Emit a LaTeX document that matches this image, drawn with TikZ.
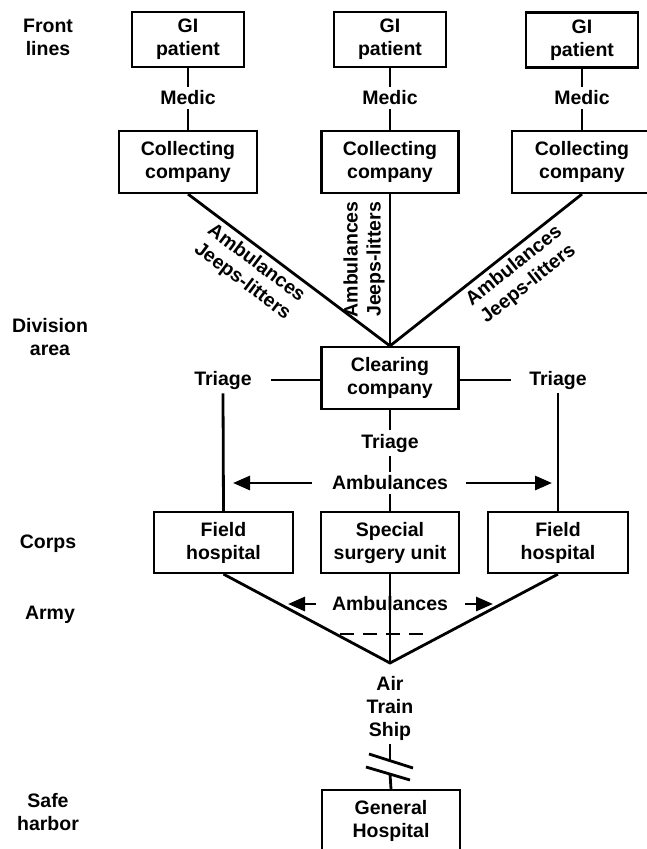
\documentclass[tikz,border=0pt]{standalone}
\usepackage{fontspec}
\setmainfont{Liberation Sans}
\usepackage{tikz}
\usetikzlibrary{arrows.meta}

\begin{document}
\begin{tikzpicture}[x=1pt,y=-1pt]

%
% Styles
%
\tikzstyle{unit} = [draw,line width=2.2pt,align=center,inner sep=0pt,minimum height=62pt,font=\bfseries\fontsize{19.5}{23}\selectfont]
\tikzstyle{tag}  = [align=center,inner sep=4pt,font=\bfseries\fontsize{19.5}{23}\selectfont]
\tikzstyle{link} = [line width=2.8pt]
\tikzstyle{ride} = [line width=2.8pt,-{Triangle[width=14pt,length=17pt]}]

\useasboundingbox (0,0) rectangle (647,849);

% echelons
\node[tag] (front)    at (48,37)  {Front\\lines};
\node[tag] (division) at (50,337) {Division\\area};
\node[tag] (corps)    at (48,544) {Corps};
\node[tag] (army)     at (50,615) {Army};
\node[tag] (safe)     at (48,812) {Safe\\harbor};

% front lines
\node[unit,minimum width=112pt,minimum height=55pt] (gi1) at (188,39.5) {GI\\patient};
\node[unit,minimum width=112pt,minimum height=55pt] (gi2) at (390,39.5) {GI\\patient};
\node[unit,minimum width=112pt,minimum height=55pt] (gi3) at (582,40)   {GI\\patient};

\node[tag] (medic1) at (188,98) {Medic};
\node[tag] (medic2) at (390,98) {Medic};
\node[tag] (medic3) at (582,98) {Medic};

\node[unit,minimum width=138pt] (coll1) at (188,162) {Collecting\\company};
\node[unit,minimum width=137pt] (coll2) at (390,162) {Collecting\\company};
\node[unit,minimum width=140pt] (coll3) at (582,162) {Collecting\\company};

% division
\node[unit,minimum width=137pt] (clear) at (390,378) {Clearing\\company};
\node[tag] (triL) at (223,380) {Triage};
\node[tag] (triR) at (558,380) {Triage};
\node[tag] (triM) at (390,443) {Triage};
\node[tag] (ambU) at (390,483) {Ambulances};

% corps and army
\node[unit,minimum width=139pt,minimum height=61pt] (fieldL)  at (223.5,542.5) {Field\\hospital};
\node[unit,minimum width=138pt,minimum height=61pt] (special) at (390,542.5)   {Special\\surgery unit};
\node[unit,minimum width=140pt,minimum height=61pt] (fieldR)  at (558,542.5)   {Field\\hospital};
\node[tag] (ambL) at (390,604) {Ambulances};
\coordinate (apex) at (390,663);

% rear
\node[tag] (route) at (390,708) {Air\\Train\\Ship};
\node[unit,minimum width=138pt] (general) at (391,821) {General\\Hospital};

\coordinate (tipUL) at (233,483);
\coordinate (tipUR) at (552,483);
\coordinate (tipLL) at (288,604);
\coordinate (tipLR) at (493,604);
\coordinate (dashA) at (340,634);
\coordinate (dashB) at (432,634);
\coordinate (cutA)  at (390,761);
\coordinate (cutB)  at (390,774);

\foreach \i in {1,2,3} {
  \draw[link] (gi\i.south) -- (medic\i.north);
  \draw[link] (medic\i.south) -- (coll\i.north);
}

\draw[link] (coll1.south) -- node[tag,sloped,below,pos=0.38] {Ambulances\\Jeeps-litters} (clear.north);
\draw[link] (clear.north) -- node[tag,sloped,above,pos=0.57] {Ambulances\\Jeeps-litters} (coll2.south);
\draw[link] (clear.north) -- node[tag,sloped,below,pos=0.6]  {Ambulances\\Jeeps-litters} (coll3.south);

\draw[link,shorten <=15pt] (triL.east) -- (triL -| clear.west);
\draw[link,shorten <=14pt] (triR.west) -- (triR -| clear.east);
\draw[link] (triL.south) -- (fieldL.north);
\draw[link] (triR.south) -- (fieldR.north);

\draw[link] (clear.south) -- (triM.north);
\draw[link] (triM.south) -- (ambU.north);
\draw[link] (ambU.south) -- (special.north);

\draw[ride,shorten <=16pt] (ambU.west) -- (tipUL);
\draw[ride,shorten <=14pt] (ambU.east) -- (tipUR);
\draw[ride,shorten <=12pt] (ambL.west) -- (tipLL);
\draw[ride,shorten <=13pt] (ambL.east) -- (tipLR);

\draw[link] (fieldL.south) -- (apex) -- (fieldR.south);
\draw[link] (special.south) -- (apex);
\draw[link,dash pattern=on 14pt off 9pt] (dashA) -- (dashB);

\draw[link] (route.south) -- (cutA);
\draw[link] (cutB) -- (general.north);
\draw[link] (369,754) -- (413,768);
\draw[link] (366,767) -- (410,780);

\end{tikzpicture}
\end{document}
